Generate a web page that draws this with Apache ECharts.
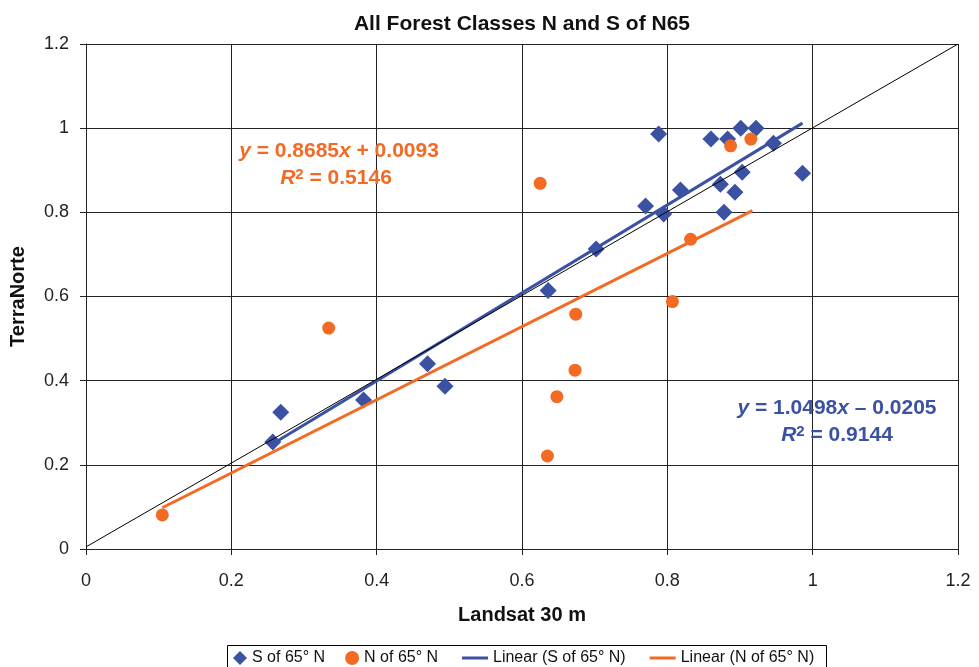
<!DOCTYPE html>
<html><head><meta charset="utf-8">
<script src="https://cdn.jsdelivr.net/npm/echarts@6/dist/echarts.min.js"></script>
<style>html,body{margin:0;padding:0;background:#fff}#c{width:979px;height:667px}</style>
</head><body><div id="c"></div>
<script>
// S of 65° N (blue diamonds)
const sX = [0.257,0.268,0.382,0.470,0.494,0.636,0.702,0.770,0.788,0.795,0.818,0.860,0.873,0.878,0.883,0.893,0.901,0.903,0.922,0.946,0.986];
const sY = [0.254,0.325,0.354,0.440,0.387,0.614,0.713,0.815,0.986,0.796,0.853,0.974,0.867,0.800,0.974,0.848,1.000,0.895,1.000,0.964,0.893];
// N of 65° N (orange circles)
const nX = [0.105,0.334,0.625,0.635,0.648,0.673,0.674,0.807,0.832,0.887,0.915];
const nY = [0.081,0.525,0.869,0.221,0.362,0.425,0.558,0.588,0.736,0.958,0.974];
// trend lines (endpoints)
const sFitX = [0.256, 0.986]; const sFitY = [0.249, 1.012];
const nFitX = [0.105, 0.917]; const nFitY = [0.098, 0.804];
// 1:1 reference line
const refX = [0, 1.2]; const refY = [0.005, 1.2];
// tick labels
const tickLabels = ['0','0.2','0.4','0.6','0.8','1','1.2'];
const legendNames = ['S of 65° N','N of 65° N','Linear (S of 65° N)','Linear (N of 65° N)'];

const BLUE = '#3b52a3', ORANGE = '#f26a24';
const FONT = '"Liberation Sans", Arial, Helvetica, sans-serif';
const zip = (a,b) => a.map((v,i)=>[v,b[i]]);
const fmt = v => tickLabels[Math.round(v/0.2)] ?? '';

const axisCommon = {
  type:'value', min:0, max:1.2, interval:0.2,
  axisLine:{show:true, lineStyle:{color:'#222', width:1}},
  axisTick:{show:true, length:6, lineStyle:{color:'#222'}},
  splitLine:{show:true, lineStyle:{color:'#222', width:1}},
  nameLocation:'middle',
  nameTextStyle:{fontFamily:FONT, fontSize:20, fontWeight:'bold', color:'#111'}
};
const legendText = {fontFamily:FONT, fontSize:16, color:'#111'};

const chart = echarts.init(document.getElementById('c'), null, {renderer:'canvas'});
chart.setOption({
  animation:false,
  backgroundColor:'#fff',
  title:{text:'All Forest Classes N and S of N65', left:517, top:9, textAlign:'center',
    textStyle:{fontFamily:FONT, fontSize:21, fontWeight:'bold', color:'#111'}},
  grid:{left:85, right:21, top:44, bottom:118, containLabel:false},
  xAxis:Object.assign({}, axisCommon, {name:'Landsat 30 m', nameGap:56,
    axisLabel:{formatter:fmt, fontFamily:FONT, fontSize:18, color:'#222', margin:23}}),
  yAxis:Object.assign({}, axisCommon, {name:'TerraNorte', nameGap:58,
    axisLabel:{formatter:fmt, fontFamily:FONT, fontSize:18, color:'#222', margin:17}}),
  legend:[
    {left:233, top:650, padding:0, selectedMode:false, itemWidth:14, itemHeight:14, itemGap:20,
      textStyle:legendText,
      data:[{name:legendNames[0], icon:'diamond'},{name:legendNames[1], icon:'circle'}]},
    {left:462, top:650, padding:0, selectedMode:false, itemWidth:26, itemHeight:3, itemGap:24,
      textStyle:legendText,
      data:[{name:legendNames[2], icon:'rect'},{name:legendNames[3], icon:'rect'}]}
  ],
  series:[
    {name:legendNames[0], type:'scatter', data:zip(sX,sY), symbol:'diamond', symbolSize:17,
      itemStyle:{color:BLUE, opacity:1}, z:2},
    {name:legendNames[1], type:'scatter', data:zip(nX,nY), symbol:'circle', symbolSize:13,
      itemStyle:{color:ORANGE, opacity:1}, z:2},
    {name:legendNames[2], type:'line', data:zip(sFitX,sFitY), symbol:'none', showSymbol:false,
      lineStyle:{color:BLUE, width:3}, itemStyle:{color:BLUE}, z:3},
    {name:legendNames[3], type:'line', data:zip(nFitX,nFitY), symbol:'none', showSymbol:false,
      lineStyle:{color:ORANGE, width:3}, itemStyle:{color:ORANGE}, z:3},
    {name:'1:1', type:'line', data:zip(refX,refY), symbol:'none', showSymbol:false, silent:true,
      lineStyle:{color:'#000', width:1}, itemStyle:{color:'#000'}, z:4}
  ],
  graphic:[
    {type:'rect', shape:{x:227.5, y:645.5, width:599, height:30}, z:0,
      style:{fill:'#fff', stroke:'#000', lineWidth:1}},
    {type:'text', x:339, y:151, z:10, style:{text:'{i|y} = 0.8685{i|x} + 0.0093', align:'center', verticalAlign:'middle',
      fill:ORANGE, font:'bold 21px '+FONT,
      rich:{i:{fill:ORANGE, fontStyle:'italic', fontWeight:'bold', fontSize:21, fontFamily:FONT}}}},
    {type:'text', x:336, y:178, z:10, style:{text:'{i|R}{s|2} = 0.5146', align:'center', verticalAlign:'middle',
      fill:ORANGE, font:'bold 21px '+FONT,
      rich:{i:{fill:ORANGE, fontStyle:'italic', fontWeight:'bold', fontSize:21, fontFamily:FONT},
            s:{fill:ORANGE, fontWeight:'bold', fontSize:15, fontFamily:FONT, verticalAlign:'top', lineHeight:12}}}},
    {type:'text', x:837, y:408, z:10, style:{text:'{i|y} = 1.0498{i|x} – 0.0205', align:'center', verticalAlign:'middle',
      fill:BLUE, font:'bold 21px '+FONT,
      rich:{i:{fill:BLUE, fontStyle:'italic', fontWeight:'bold', fontSize:21, fontFamily:FONT}}}},
    {type:'text', x:837, y:435, z:10, style:{text:'{i|R}{s|2} = 0.9144', align:'center', verticalAlign:'middle',
      fill:BLUE, font:'bold 21px '+FONT,
      rich:{i:{fill:BLUE, fontStyle:'italic', fontWeight:'bold', fontSize:21, fontFamily:FONT},
            s:{fill:BLUE, fontWeight:'bold', fontSize:15, fontFamily:FONT, verticalAlign:'top', lineHeight:12}}}}
  ]
});
</script></body></html>
